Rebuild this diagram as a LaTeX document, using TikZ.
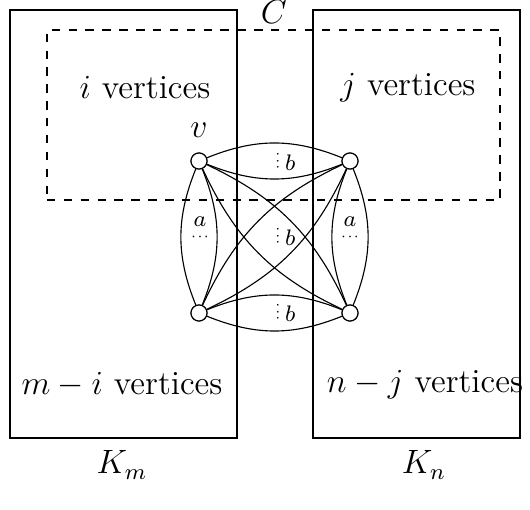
\documentclass[12pt,tikz,border=0pt]{standalone}
\usetikzlibrary{positioning}
\newcommand{\smalldots}{\rotatebox{90}{$\scriptscriptstyle\cdots$}}
\tikzset{
  vtx/.style={draw,circle,fill=white,inner sep=0pt,minimum size=0.2cm},
  part/.style={draw,inner sep=0pt},
  lbl/.style={font=\scriptsize,inner sep=1pt}
}
\begin{document}
\begin{tikzpicture}
\useasboundingbox (0,0) rectangle (6.625,6.375);
% the two cliques
\node[part,minimum width=2.8375cm,minimum height=5.35cm] (km) at (1.54375,3.575) {};
\node[part,minimum width=2.5875cm,minimum height=5.35cm] (kn) at (5.20625,3.575) {};
\node[part,dashed,minimum width=5.6625cm,minimum height=2.125cm] (cyc) at (3.41875,4.9375) {};
\node[inner sep=0pt] (clab) at (3.425,6.225) {$C$};
\node (ilab) at (1.8125,5.275) {$i$ vertices};
\node (jlab) at (5.1,5.275) {$j$ vertices};
\node (milab) at (1.525,1.5625) {$m-i$ vertices};
\node (njlab) at (5.3125,1.5625) {$n-j$ vertices};
\node (kmlab) at (1.525,0.5625) {$K_m$};
\node (knlab) at (5.3,0.5625) {$K_n$};
% vertices
\node[vtx] (tl) at (2.4875,4.3625) {};
\node[vtx] (tr) at (4.375,4.3625) {};
\node[vtx] (bl) at (2.4875,2.4625) {};
\node[vtx] (br) at (4.375,2.4625) {};
\node[above=1pt of tl] (vlab) {$v$};
% edges
\draw (tl) to[bend left=22] (tr);
\draw (tl) to[bend right=22] (tr);
\draw (bl) to[bend left=22] (br);
\draw (bl) to[bend right=22] (br);
\draw (tl) to[bend left=22] (bl);
\draw (tl) to[bend right=22] (bl);
\draw (tr) to[bend left=22] (br);
\draw (tr) to[bend right=22] (br);
\draw (tl) to[bend left=20] (br);
\draw (tl) to[bend right=20] (br);
\draw (tr) to[bend left=20] (bl);
\draw (tr) to[bend right=20] (bl);
\node[vtx] at (tl) {};
\node[vtx] at (tr) {};
\node[vtx] at (bl) {};
\node[vtx] at (br) {};
% labels
\node[lbl] (btop) at (3.5625,4.36) {\smalldots\,$b$};
\node[lbl] (bmid) at (3.5625,3.4225) {\smalldots\,$b$};
\node[lbl] (bbot) at (3.5625,2.4725) {\smalldots\,$b$};
\node[lbl,inner sep=0pt] (aleft) at (2.5,3.61) {$a$};
\node[lbl,inner sep=0pt] (dleft) at (2.5,3.41) {$\scriptscriptstyle\cdots$};
\node[lbl,inner sep=0pt] (aright) at (4.375,3.61) {$a$};
\node[lbl,inner sep=0pt] (dright) at (4.375,3.41) {$\scriptscriptstyle\cdots$};
\end{tikzpicture}
\end{document}
